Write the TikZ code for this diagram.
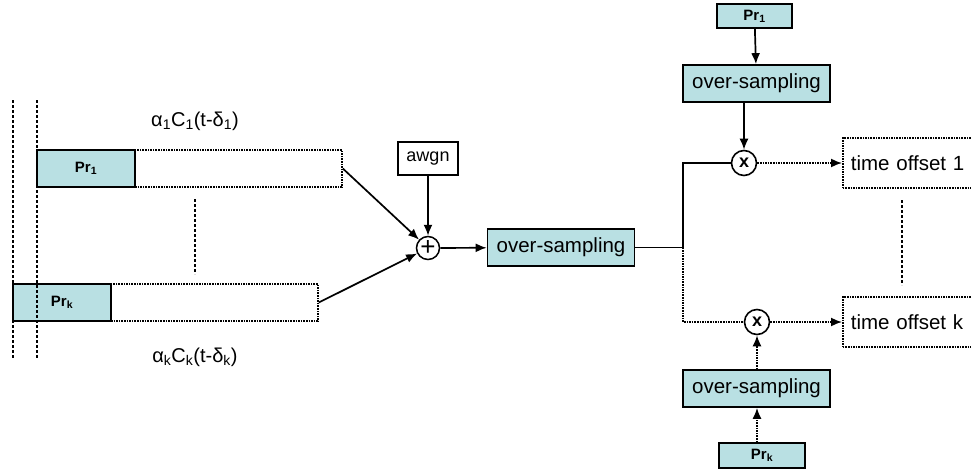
\documentclass[tikz,border=0pt]{standalone}
\usepackage{fontspec}
\setmainfont{Liberation Sans}
\usetikzlibrary{arrows.meta}

\definecolor{tealfill}{RGB}{185,224,227}

\begin{document}
\begin{tikzpicture}[
    x=1pt, y=-1pt,
    >={Latex[length=11pt,width=9pt]},
    prbox/.style={rectangle, draw, line width=1.7pt, fill=tealfill, inner sep=0pt, font=\fontsize{15}{17}\selectfont\bfseries},
    empty/.style={rectangle, draw, densely dotted, line width=1.6pt, inner sep=0pt},
    osbox/.style={rectangle, draw, line width=1.7pt, fill=tealfill, minimum width=147pt, minimum height=37pt, inner sep=0pt, font=\fontsize{20.5}{24}\selectfont},
    mult/.style={circle, draw, line width=1.6pt, minimum size=25pt, inner sep=0pt, font=\fontsize{18}{20}\selectfont\bfseries},
    outbox/.style={rectangle, draw, densely dotted, line width=1.6pt, text width=140pt, align=left, inner xsep=8pt, minimum height=50pt, inner ysep=0pt, font=\fontsize{20.5}{24}\selectfont},
    lbl/.style={font=\fontsize{20}{24}\selectfont},
    arr/.style={->, line width=1.7pt},
    darr/.style={->, line width=1.6pt, densely dotted}
]
\useasboundingbox (0,0) rectangle (971,474);

% Delayed user signals
\node[prbox, minimum width=98pt, minimum height=37pt] (pr1) at (86,168.5) {Pr\textsubscript{1}};
\node[empty, minimum width=207pt, minimum height=37pt] (data1) at (238.5,168.5) {};
\node[prbox, minimum width=98pt, minimum height=37pt] (prk) at (62,302.5) {Pr\textsubscript{k}};
\node[empty, minimum width=207pt, minimum height=37pt] (datak) at (214.5,302.5) {};
\node[lbl] (sig1) at (195,121) {α\textsubscript{1}C\textsubscript{1}(t-δ\textsubscript{1})};
\node[lbl] (sigk) at (195,357) {α\textsubscript{k}C\textsubscript{k}(t-δ\textsubscript{k})};

% Timing marks
\draw[densely dashed, line width=1.5pt] (13,100) -- (13,358);
\draw[densely dashed, line width=1.5pt] (37,100) -- (37,358);
\draw[densely dashed, line width=1.3pt] (195,199) -- (195,274);

% Channel
\node[rectangle, draw, line width=1.6pt, minimum width=60pt, minimum height=33pt, inner sep=0pt, font=\fontsize{18}{21}\selectfont] (awgn) at (428,158.5) {awgn};
\node[circle, draw, line width=1.5pt, minimum size=23pt, inner sep=0pt, font=\fontsize{26}{26}\selectfont] (sum) at (428,248) {+};
\node[osbox] (os) at (561,247.5) {over-sampling};

\draw[arr] (data1.east) -- (sum);
\draw[arr] (datak.east) -- (sum);
\draw[arr] (awgn) -- (sum);
\draw[arr] (sum) -- (os);

% Correlator branches
\coordinate (split) at (683,247.5);
\node[prbox, minimum width=75pt, minimum height=24pt] (ref1) at (754.5,16) {Pr\textsubscript{1}};
\node[osbox] (os1) at (756.5,83.5) {over-sampling};
\node[mult] (mult1) at (744,163) {x};
\node[outbox, anchor=west] (off1) at (842,163) {time offset 1};

\node[mult] (multk) at (757,322) {x};
\node[osbox] (osk) at (756.5,388.5) {over-sampling};
\node[prbox, minimum width=86pt, minimum height=25pt] (refk) at (762,455.5) {Pr\textsubscript{k}};
\node[outbox, anchor=west] (offk) at (842,322) {time offset k};

\draw[line width=1.7pt] (os) -- (split);
\draw[line width=1.7pt] (split) |- (mult1);
\draw[line width=1.6pt, densely dotted] (split) |- (multk);
\draw[arr] (ref1) -- (os1);
\draw[arr] (os1.south -| mult1) -- (mult1);
\draw[darr] (refk.north -| multk) -- (osk.south -| multk);
\draw[darr] (osk.north -| multk) -- (multk);
\draw[darr] (mult1) -- (off1);
\draw[darr] (multk) -- (offk);
\draw[densely dashed, line width=1.3pt] (902,200) -- (902,285);

\end{tikzpicture}
\end{document}
